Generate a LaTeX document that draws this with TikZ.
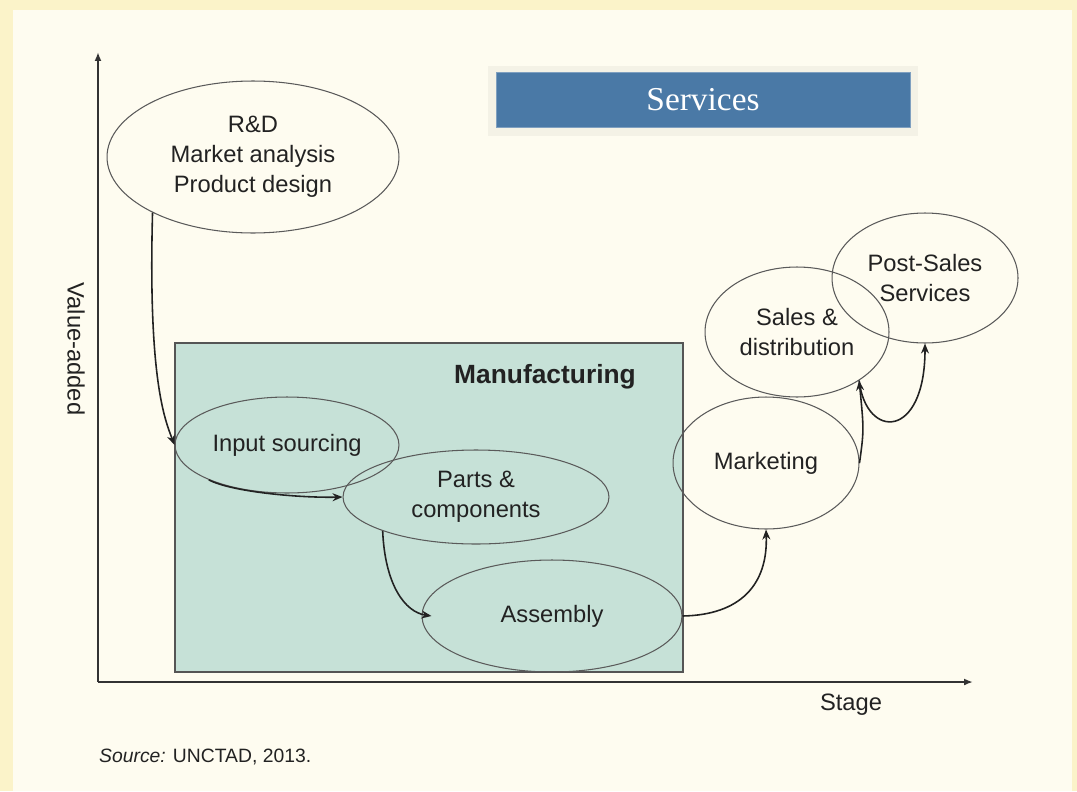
\documentclass[tikz,border=0pt]{standalone}
\usepackage{fontspec}
\setmainfont{Liberation Sans}
\newfontfamily\servfont{Liberation Serif}
\usetikzlibrary{shapes.geometric, arrows.meta}

\definecolor{paleyellow}{HTML}{FBF3C9}
\definecolor{cream}{HTML}{FEFCF0}
\definecolor{bannershade}{HTML}{F4F2E6}
\definecolor{servblue}{HTML}{4A79A6}
\definecolor{servedge}{HTML}{7FA0C0}
\definecolor{mfgfill}{HTML}{C6E1D7}
\definecolor{boxgray}{HTML}{555555}
\definecolor{ellgray}{HTML}{5A5A5A}
\definecolor{inkgray}{HTML}{222222}
\definecolor{axisgray}{HTML}{333333}

\begin{document}
\begin{tikzpicture}[x=0.02cm,y=-0.02cm,
	phase/.style 2 args={ellipse,draw=ellgray,line width=0.6pt,minimum width=#1,minimum height=#2,inner sep=0pt,align=center,text=inkgray,font=\fontsize{13.5}{17}\selectfont},
	flow/.style={-{Stealth[length=2mm,width=1.6mm]},line width=0.9pt,draw=inkgray},
	axis/.style={-{Latex[length=1.8mm,width=1.4mm]},line width=1.3pt,draw=axisgray},
	lbl/.style={text=inkgray,font=\fontsize{13.5}{17}\selectfont}]
	
	%background
	\fill[paleyellow] (0,0) rectangle (1077,791);
	\fill[cream] (13,10) rectangle (1072,791);
	\useasboundingbox (0,0) rectangle (1077,791);
	
	%services banner
	\fill[bannershade] (488,66) rectangle (918,136);
	\node[fill=servblue,draw=servedge,minimum width=8.28cm,minimum height=1.1cm,text=white,font=\servfont\fontsize{19}{22}\selectfont] (serv) at (703,100) {Services};
	
	%manufacturing box
	\node[fill=mfgfill,draw=boxgray,line width=0.7pt,minimum width=10.16cm,minimum height=6.58cm,inner sep=0pt] (mfg) at (429,507.5) {};
	\node[text=inkgray,font=\bfseries\fontsize{15}{18}\selectfont] (mfglbl) at (545,377) {Manufacturing};
	
	%stages
	\node[phase={5.84cm}{3.04cm}] (rd)    at (253,157) {R\&D\\Market analysis\\Product design};
	\node[phase={4.48cm}{1.92cm}] (inp)   at (287,445) {Input sourcing};
	\node[phase={5.32cm}{1.88cm}] (parts) at (476,497) {Parts \&\\components};
	\node[phase={5.2cm}{2.24cm}]  (asm)   at (552,616) {Assembly};
	\node[phase={3.72cm}{2.64cm}] (mkt)   at (766,463) {Marketing};
	\node[phase={3.68cm}{2.6cm}]  (sales) at (797,332) {Sales \&\\distribution};
	\node[phase={3.72cm}{2.6cm}]  (post)  at (925,278) {Post-Sales\\Services};
	
	%arrows
	\draw[flow] (rd.209) .. controls (148,380) and (165,420) .. (inp.180);			%R&D--input
	\draw[flow] (inp.204) .. controls (232,492) and (300,498) .. (parts.180);		%input--parts
	\draw[flow] (parts.200) .. controls (385,585) and (405,612) .. ([xshift=0.2cm]asm.180);	%parts--assembly
	\draw[flow] (asm.0) .. controls (740,615) and (768,585) .. (mkt.270);			%assembly--marketing
	\draw[flow] (mkt.0) .. controls (864,430) .. (sales.322);						%marketing--sales
	\draw[flow] (sales.322) .. controls (866,440) and (925,440) .. (post.270);		%sales--post-sales
	
	%axes
	\coordinate (orig) at (98,682);
	\coordinate (ytop) at (98,52);
	\coordinate (xend) at (973,682);
	\draw[axis] (orig)--(ytop);
	\draw[axis] (orig)--(xend);
	
	%axis labels
	\node[lbl,rotate=-90] (vlbl) at (76,349) {Value-added};
	\node[lbl] (slbl) at (851,705) {Stage};
	\node[anchor=west,text=inkgray,font=\fontsize{11}{13}\selectfont] (src) at (93,757) {\textit{Source:} UNCTAD, 2013.};
\end{tikzpicture}
\end{document}
